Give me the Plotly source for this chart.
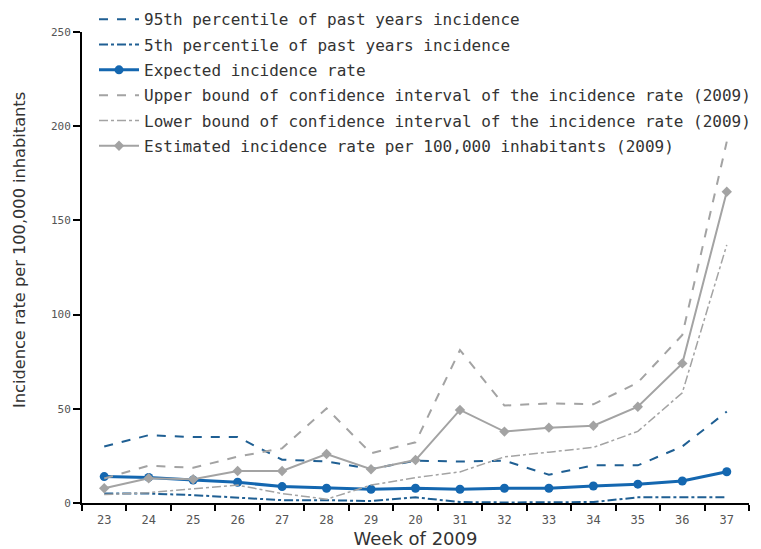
import plotly.graph_objects as go

# Week labels as printed on the axis
weeks = ["23", "24", "25", "26", "27", "28", "29", "20", "31", "32", "33", "34", "35", "36", "37"]

p95_past = [30, 36, 35, 35, 23, 22, 18, 22.5, 22, 22.5, 15, 20, 20, 30, 48.5]
p5_past = [5, 5, 4.2, 3, 1.5, 1.5, 1, 3, 0.5, 0.3, 0.3, 0.5, 3, 3, 3]
expected = [14, 13.6, 12.2, 11, 8.7, 7.8, 7.3, 7.8, 7.3, 7.8, 7.8, 9, 10, 11.7, 16.6]
upper_ci = [13, 19.8, 18.7, 24.6, 29, 50.2, 26.4, 32.2, 81.2, 51.7, 52.9, 52.4, 63.9, 89.2, 191.8]
lower_ci = [4.5, 5.5, 7.5, 9.5, 5, 2, 9.5, 13.5, 16.5, 24.5, 27, 29.5, 38, 58.5, 137]
estimated = [7.8, 13.1, 12.6, 17, 17, 26, 17.9, 22.8, 49.4, 37.9, 40, 41, 51.1, 74.1, 165.2]

BLUE_DARK = "#1f5f93"
BLUE = "#1467b0"
GREY = "#a3a3a3"

fig = go.Figure()
fig.add_trace(go.Scatter(x=weeks, y=p95_past, mode="lines", legendgroup="g1",
                         name="95th percentile of past years incidence",
                         line=dict(color=BLUE_DARK, width=2, dash="dash")))
fig.add_trace(go.Scatter(x=weeks, y=p5_past, mode="lines", legendgroup="g2",
                         name="5th percentile of past years incidence",
                         line=dict(color=BLUE_DARK, width=2, dash="dashdot")))
fig.add_trace(go.Scatter(x=weeks, y=expected, mode="lines+markers", legendgroup="g3",
                         name="Expected incidence rate",
                         line=dict(color=BLUE, width=3),
                         marker=dict(symbol="circle", size=9, color=BLUE)))
fig.add_trace(go.Scatter(x=weeks, y=upper_ci, mode="lines", legendgroup="g4",
                         name="Upper bound of confidence interval of the incidence rate (2009)",
                         line=dict(color=GREY, width=2, dash="dash")))
fig.add_trace(go.Scatter(x=weeks, y=lower_ci, mode="lines", legendgroup="g5",
                         name="Lower bound of confidence interval of the incidence rate (2009)",
                         line=dict(color=GREY, width=1.5, dash="dashdot")))
fig.add_trace(go.Scatter(x=weeks, y=estimated, mode="lines+markers", legendgroup="g6",
                         name="Estimated incidence rate per 100,000 inhabitants (2009)",
                         line=dict(color=GREY, width=2),
                         marker=dict(symbol="diamond", size=8, color=GREY)))

fig.update_layout(
    width=761, height=549,
    margin=dict(l=82, r=12, t=32, b=46, autoexpand=False),
    plot_bgcolor="white", paper_bgcolor="white",
    font=dict(family="DejaVu Sans", color="#333333"),
    legend=dict(x=0.018, y=1.063, xanchor="left", yanchor="top",
                bgcolor="rgba(255,255,255,0)", traceorder="grouped",
                font=dict(family="DejaVu Sans Mono", size=16, color="#333333"),
                itemwidth=40, tracegroupgap=1.5),
    xaxis=dict(type="category", range=[-0.5, 14.5], tickson="boundaries",
               showline=True, linecolor="black", linewidth=2,
               ticks="outside", ticklen=6, tickwidth=2, tickcolor="black",
               showgrid=False, zeroline=False, ticklabelstandoff=5,
               tickfont=dict(family="DejaVu Sans Mono", size=12, color="#555555"),
               title=dict(text="Week of 2009", font=dict(size=18, color="#333333"), standoff=10)),
    yaxis=dict(range=[0, 250], tickvals=[0, 50, 100, 150, 200, 250],
               showline=True, linecolor="black", linewidth=2,
               ticks="outside", ticklen=7, tickwidth=2, tickcolor="black",
               showgrid=False, zeroline=False,
               tickfont=dict(family="DejaVu Sans Mono", size=11, color="#555555")),
    annotations=[dict(text="Incidence rate per 100,000 inhabitants",
                      textangle=-90, xref="paper", yref="paper",
                      x=-82 / 667 + 19 / 667, y=(503 - 250) / 471,
                      xanchor="center", yanchor="middle", showarrow=False,
                      font=dict(size=16.2, color="#333333"))],
)

fig.write_html("out.html")
